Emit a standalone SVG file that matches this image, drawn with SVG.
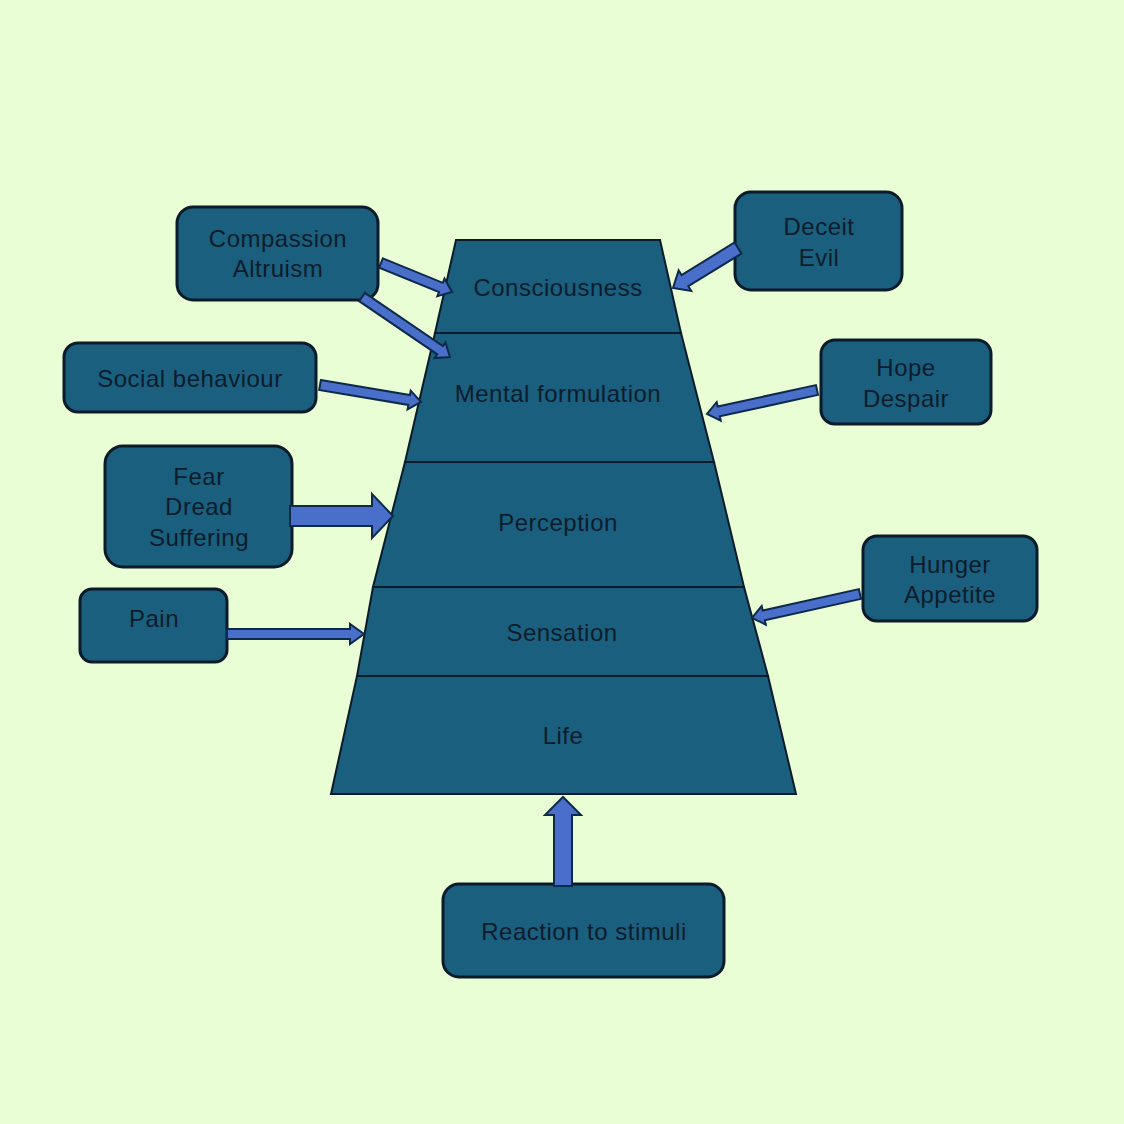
<svg xmlns="http://www.w3.org/2000/svg" width="1124" height="1124" viewBox="0 0 1124 1124">
<style>
.bg{fill:#EAFED5}
.box{fill:#1A5F7E;stroke:#0B1B2A;stroke-width:3}
.seg{fill:#1A5F7E;stroke:#0B1B2A;stroke-width:2}
.arr{fill:#4A6FCA;stroke:#0E2A4A;stroke-width:2;stroke-linejoin:miter}
text{font-family:"Liberation Sans",Arial,sans-serif;font-size:24px;letter-spacing:0.5px;fill:#0C1C2C;text-anchor:middle}
</style>
<rect class="bg" x="0" y="0" width="1124" height="1124"/>
<g id="pyramid">
<g id="consciousness"><polygon class="seg" points="456,240 660,240 681,333 435,333"/><text x="558" y="296">Consciousness</text></g>
<g id="mental"><polygon class="seg" points="435,333 681,333 714,462 405,462"/><text x="558" y="402">Mental formulation</text></g>
<g id="perception"><polygon class="seg" points="405,462 714,462 744,587 373,587"/><text x="558" y="531">Perception</text></g>
<g id="sensation"><polygon class="seg" points="373,587 744,587 768,676 357,676"/><text x="562" y="641">Sensation</text></g>
<g id="life"><polygon class="seg" points="357,676 768,676 796,794 331,794"/><text x="563" y="744">Life</text></g>
</g>
<g id="compassion"><rect class="box" x="177" y="207" width="201" height="93" rx="16"/><text x="278" y="247">Compassion</text><text x="278" y="277">Altruism</text></g>
<g id="deceit"><rect class="box" x="735" y="192" width="167" height="98" rx="16"/><text x="819" y="235">Deceit</text><text x="819" y="266">Evil</text></g>
<g id="social"><rect class="box" x="64" y="343" width="252" height="69" rx="14"/><text x="190" y="387">Social behaviour</text></g>
<g id="hope"><rect class="box" x="821" y="340" width="170" height="84" rx="14"/><text x="906" y="376">Hope</text><text x="906" y="407">Despair</text></g>
<g id="fear"><rect class="box" x="105" y="446" width="187" height="121" rx="18"/><text x="199" y="485">Fear</text><text x="199" y="515">Dread</text><text x="199" y="546">Suffering</text></g>
<g id="pain"><rect class="box" x="80" y="589" width="147" height="73" rx="12"/><text x="154" y="627">Pain</text></g>
<g id="hunger"><rect class="box" x="863" y="536" width="174" height="85" rx="14"/><text x="950" y="573">Hunger</text><text x="950" y="603">Appetite</text></g>
<g id="reaction"><rect class="box" x="443" y="884" width="281" height="93" rx="16"/><text x="584" y="940">Reaction to stimuli</text></g>
<g id="connectors">
<path class="arr" transform="translate(381,263) rotate(22.2)" d="M0,-5 L64.7,-5 L64.7,-9.5 L76.7,0 L64.7,9.5 L64.7,5 L0,5 Z"/>
<path class="arr" transform="translate(362,297) rotate(34.3)" d="M0,-5 L94.5,-5 L94.5,-9.5 L106.5,0 L94.5,9.5 L94.5,5 L0,5 Z"/>
<path class="arr" transform="translate(320,385) rotate(9.55)" d="M0,-5 L90.4,-5 L90.4,-9.5 L102.4,0 L90.4,9.5 L90.4,5 L0,5 Z"/>
<path class="arr" transform="translate(290,516)" d="M0,-10 L82,-10 L82,-22 L103,0 L82,22 L82,10 L0,10 Z"/>
<path class="arr" transform="translate(227,634)" d="M0,-5 L123,-5 L123,-10 L137,0 L123,10 L123,5 L0,5 Z"/>
<path class="arr" transform="translate(738,248) rotate(148.4)" d="M0,-6.5 L62.3,-6.5 L62.3,-12 L76.3,0 L62.3,12 L62.3,6.5 L0,6.5 Z"/>
<path class="arr" transform="translate(817,390) rotate(167.7)" d="M0,-5 L100.6,-5 L100.6,-9.5 L112.6,0 L100.6,9.5 L100.6,5 L0,5 Z"/>
<path class="arr" transform="translate(860,594) rotate(167.5)" d="M0,-5 L98.6,-5 L98.6,-9.5 L110.6,0 L98.6,9.5 L98.6,5 L0,5 Z"/>
<path class="arr" transform="translate(563,886) rotate(-90)" d="M0,-9 L71,-9 L71,-18 L89,0 L71,18 L71,9 L0,9 Z"/>
</g>
</svg>
